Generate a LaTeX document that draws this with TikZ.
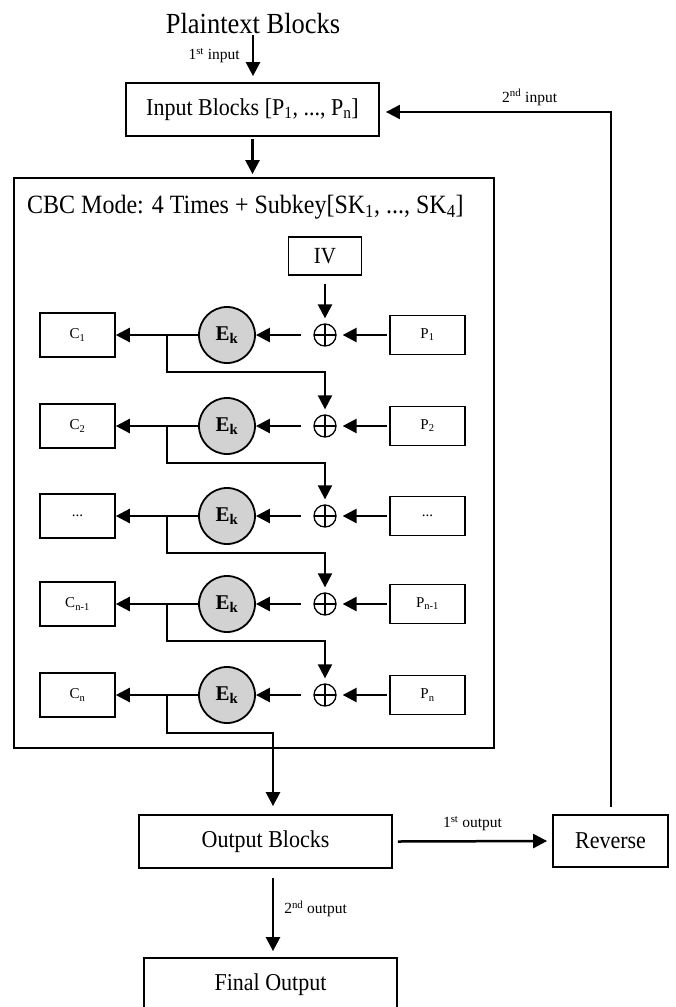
\documentclass[tikz,border=0pt]{standalone}
\usepackage{fontspec}
\usepackage{graphicx}
\setmainfont{Liberation Serif}
\usetikzlibrary{arrows.meta,calc}
\newcommand{\threedots}{...}
\newcommand{\tallt}[1]{\scalebox{1}[1.1]{#1}}
\tikzset{
  big/.style={draw, line width=1.8pt, inner sep=0pt, minimum width=253pt, minimum height=53pt, font=\fontsize{22}{26}\selectfont},
  small/.style={draw, line width=1.6pt, inner sep=0pt, minimum width=75pt, font=\fontsize{15}{18}\selectfont},
  enc/.style={circle, draw, line width=1.8pt, fill=gray!35, minimum size=56pt, inner sep=0pt, font=\fontsize{21}{24}\selectfont\bfseries},
  xorn/.style={circle, draw, line width=1.3pt, minimum size=22pt, inner sep=0pt,
    path picture={\draw[line width=1.3pt] (path picture bounding box.north) -- (path picture bounding box.south)
      (path picture bounding box.west) -- (path picture bounding box.east);}},
  arr/.style={line width=2.5pt, -{Triangle[length=14pt,width=14pt]}},
  fb/.style={line width=2pt, -{Triangle[length=14pt,width=14pt]}},
  lab/.style={font=\fontsize{15.5}{18}\selectfont, inner sep=0pt}
}
\begin{document}
\begin{tikzpicture}[x=1pt,y=-1pt]
\useasboundingbox (0,0) rectangle (676,1007);
\clip (0,0) rectangle (676,1007);
% containers
\node[draw, line width=1.8pt, inner sep=0pt, minimum width=480pt, minimum height=570pt] (cbc) at (254,463) {};
\node[anchor=base west, inner sep=0pt, font=\fontsize{24}{28}\selectfont] (title) at (27,213)
  {\tallt{CBC Mode: 4 Times + Subkey[SK\textsubscript{1}, \threedots, SK\textsubscript{4}]}};
% top
\node[anchor=base, inner sep=0pt, font=\fontsize{26.5}{30}\selectfont] (plain) at (253,33) {\tallt{Plaintext Blocks}};
\node[big] (input) at (252.5,109.5) {\tallt{Input Blocks [P\textsubscript{1}, \threedots, P\textsubscript{n}]}};
\node[draw, line width=1.6pt, inner sep=0pt, minimum width=73pt, minimum height=38pt, font=\fontsize{21}{24}\selectfont] (iv) at (325,256) {\tallt{IV}};
% rows
\foreach \i/\y/\ct/\pt in {1/335/C\textsubscript{1}/P\textsubscript{1},
  2/426/C\textsubscript{2}/P\textsubscript{2},
  3/516/\threedots/\threedots,
  4/604/C\textsubscript{n-1}/P\textsubscript{n-1},
  5/695/C\textsubscript{n}/P\textsubscript{n}}{
  \node[small, minimum height=44pt] (c\i) at (77.5,\y) {\ct};
  \node[enc] (e\i) at (227,\y) {E\textsubscript{k}};
  \node[xorn] (x\i) at (325,\y) {};
  \node[small, minimum height=39pt] (p\i) at (427.5,\y) {\pt};
  \coordinate (b\i) at (167,\y);
  \draw[arr] ([xshift=-2pt]p\i.west) -- ([xshift=6pt]x\i.east);
  \draw[arr] ([xshift=-12pt]x\i.west) -- (e\i.east);
  \draw[arr] (e\i.west) -- (c\i.east);
}
\foreach \i/\j in {1/2,2/3,3/4,4/5}{
  \draw[fb] (b\i) -- ++(0,37) -| ([yshift=5pt]x\j.north);
}
% bottom
\node[big] (out) at (265.5,841.5) {\tallt{Output Blocks}};
\node[big, minimum width=115pt, minimum height=52pt] (rev) at (610.5,841) {\tallt{Reverse}};
\node[big] (fin) at (270.5,984.5) {\tallt{Final Output}};
% connectors
\draw[arr] ([yshift=-1.5pt]plain.south) -- node[lab, pos=0.5, left=12pt]{1\textsuperscript{st} input} ([yshift=6pt]plain.south |- input.north);
\draw[arr] ([yshift=-2pt]input.south) -- ([yshift=3pt]input.south |- cbc.north);
\draw[arr] ([yshift=-8pt]iv.south) -- ([yshift=5pt]x1.north);
\draw[arr] (b5) -- ++(0,38) -| ([xshift=7.5pt,yshift=8pt]out.north);
\draw[arr] ([xshift=5pt]out.east) -- node[lab, above=9pt]{1\textsuperscript{st} output} ([xshift=-5pt]rev.west);
\draw[arr] ([xshift=7.5pt,yshift=-9pt]out.south) -- node[lab, pos=0.42, right=10pt]{2\textsuperscript{nd} output} ([xshift=2.5pt,yshift=6pt]fin.north);
\draw[fb] ([yshift=7pt]rev.north) |- node[lab, pos=0.68, above=5.5pt]{2\textsuperscript{nd} input} ([xshift=6pt,yshift=-2.5pt]input.east);
\end{tikzpicture}
\end{document}
